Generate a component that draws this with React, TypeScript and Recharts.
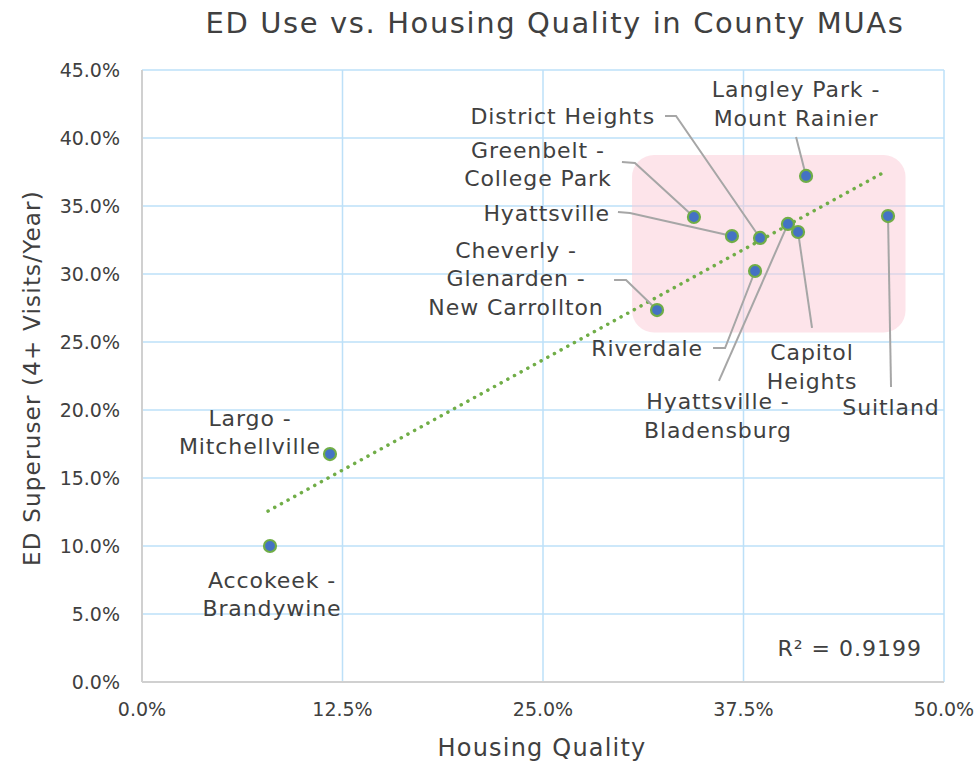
import React from 'react';
import {
  ScatterChart,
  Scatter,
  XAxis,
  YAxis,
  CartesianGrid,
  ReferenceArea,
  Customized,
} from 'recharts';

// County MUAs
const places = [
  'Accokeek - Brandywine',
  'Largo - Mitchellville',
  'Cheverly - Glenarden - New Carrollton',
  'Greenbelt - College Park',
  'Hyattsville',
  'District Heights',
  'Riverdale',
  'Hyattsville - Bladensburg',
  'Capitol Heights',
  'Langley Park - Mount Rainier',
  'Suitland',
];
const housingQuality = [7.98, 11.72, 32.11, 34.41, 36.78, 38.53, 38.22, 40.27, 40.9, 41.4, 46.51];
const edSuperuser = [10.0, 16.76, 27.35, 34.19, 32.79, 32.65, 30.22, 33.68, 33.09, 37.21, 34.26];

// linear trendline endpoints (dotted green)
const trendX = [7.86, 46.4];
const trendY = [12.57, 37.57];

const xTicks = [0, 12.5, 25, 37.5, 50];
const yTicks = [0, 5, 10, 15, 20, 25, 30, 35, 40, 45];

// highlighted cluster box
const cluster = { x1: 30.55, x2: 47.6, y1: 25.7, y2: 38.75 };

const points = places.map((name, i) => ({ name, x: housingQuality[i], y: edSuperuser[i] }));
const trend = trendX.map((x, i) => ({ x, y: trendY[i] }));

const TEXT = '#404040';
const FONT = '"DejaVu Sans", sans-serif';

// label placement, offsets in px from the point; leader = polyline ending at the point
type LabelSpec = {
  lines: string[];
  dx: number;
  dy: number;
  anchor: 'start' | 'middle' | 'end';
  leader?: [number, number][];
};
const labelSpecs: Record<string, LabelSpec> = {
  'Accokeek - Brandywine': { lines: ['Accokeek -', 'Brandywine'], dx: 2, dy: 34, anchor: 'middle' },
  'Largo - Mitchellville': { lines: ['Largo -', 'Mitchellville'], dx: -80, dy: -36, anchor: 'middle' },
  'Cheverly - Glenarden - New Carrollton': {
    lines: ['Cheverly -', 'Glenarden -', 'New Carrollton'],
    dx: -141, dy: -60, anchor: 'middle',
    leader: [[-43, -30], [-31, -30]],
  },
  'Greenbelt - College Park': {
    lines: ['Greenbelt -', 'College Park'], dx: -156, dy: -67, anchor: 'middle',
    leader: [[-72, -55], [-59, -54]],
  },
  Hyattsville: {
    lines: ['Hyattsville'], dx: -122, dy: -23, anchor: 'end',
    leader: [[-114, -24], [-102, -23]],
  },
  'District Heights': {
    lines: ['District Heights'], dx: -105, dy: -121, anchor: 'end',
    leader: [[-95, -122], [-84, -122]],
  },
  Riverdale: {
    lines: ['Riverdale'], dx: -52, dy: 77, anchor: 'end',
    leader: [[-42, 77], [-30, 77]],
  },
  'Hyattsville - Bladensburg': {
    lines: ['Hyattsville -', 'Bladensburg'], dx: -70, dy: 178, anchor: 'middle',
    leader: [[-69, 157]],
  },
  'Capitol Heights': {
    lines: ['Capitol', 'Heights'], dx: 14, dy: 121, anchor: 'middle',
    leader: [[14, 96]],
  },
  'Langley Park - Mount Rainier': {
    lines: ['Langley Park -', 'Mount Rainier'], dx: -10, dy: -86, anchor: 'middle',
    leader: [[-10, -39]],
  },
  Suitland: { lines: ['Suitland'], dx: 3, dy: 191, anchor: 'middle', leader: [[3, 171]] },
};

const pct = (v: number) => `${v.toFixed(1)}%`;

const PointLabel = (props: any) => {
  const { cx, cy, payload } = props;
  const spec = labelSpecs[payload.name];
  if (!spec || cx == null) return null;
  const leader = spec.leader
    ? [...spec.leader.map(([ox, oy]) => `${cx + ox},${cy + oy}`), `${cx},${cy}`].join(' ')
    : null;
  return (
    <g>
      {leader && <polyline points={leader} fill="none" stroke="#a6a6a6" strokeWidth={2} />}
      {spec.lines.map((line, i) => (
        <text
          key={i}
          x={cx + spec.dx}
          y={cy + spec.dy + i * 28.5}
          textAnchor={spec.anchor}
          dominantBaseline="central"
          fontFamily={FONT}
          fontSize={22}
          letterSpacing={0.9}
          fill={TEXT}
        >
          {line}
        </text>
      ))}
    </g>
  );
};

const PointDot = (props: any) => {
  const { cx, cy } = props;
  if (cx == null) return null;
  return <circle cx={cx} cy={cy} r={6} fill="#4472c4" stroke="#70ad47" strokeWidth={2.2} />;
};

const ClusterBox = (props: any) => {
  const { x, y, width, height } = props;
  return <rect x={x} y={y} width={width} height={height} rx={22} ry={22} fill="#fbc9d5" fillOpacity={0.5} />;
};

const Texts = () => (
  <g fontFamily={FONT} fill={TEXT}>
    <text x={555} y={23} textAnchor="middle" dominantBaseline="central" fontSize={29} letterSpacing={1.6}>
      ED Use vs. Housing Quality in County MUAs
    </text>
    <text x={542} y={748} textAnchor="middle" dominantBaseline="central" fontSize={24} letterSpacing={1.2}>
      Housing Quality
    </text>
    <text
      x={32}
      y={378}
      textAnchor="middle"
      dominantBaseline="central"
      fontSize={23}
      letterSpacing={1.2}
      transform="rotate(-90 32 378)"
    >
      ED Superuser (4+ Visits/Year)
    </text>
    <text x={922} y={648} textAnchor="end" dominantBaseline="central" fontSize={22} letterSpacing={1}>
      R² = 0.9199
    </text>
  </g>
);

export default function App() {
  return (
    <div style={{ position: 'absolute', left: 0, top: 0, background: '#fff' }}>
      <ScatterChart width={979} height={769} margin={{ top: 70, right: 35, bottom: 0, left: 0 }}>
        <ReferenceArea
          x1={cluster.x1}
          x2={cluster.x2}
          y1={cluster.y1}
          y2={cluster.y2}
          shape={<ClusterBox />}
          ifOverflow="visible"
        />
        <CartesianGrid stroke="#bde0f8" strokeWidth={1.5} />
        <XAxis
          type="number"
          dataKey="x"
          domain={[0, 50]}
          ticks={xTicks}
          tickFormatter={pct}
          height={87}
          axisLine={{ stroke: '#d0d0d0', strokeWidth: 2 }}
          tickLine={false}
          tickMargin={15}
          tick={{ fill: TEXT, fontSize: 19, fontFamily: FONT }}
          interval={0}
        />
        <YAxis
          type="number"
          dataKey="y"
          domain={[0, 45]}
          ticks={yTicks}
          tickFormatter={pct}
          width={142}
          axisLine={{ stroke: '#d0d0d0', strokeWidth: 2 }}
          tickLine={false}
          tickMargin={16}
          tick={{ fill: TEXT, fontSize: 19, fontFamily: FONT }}
          interval={0}
        />
        <Scatter
          data={trend}
          line={{ stroke: '#70ad47', strokeWidth: 3.5, strokeDasharray: '0.1 7.5', strokeLinecap: 'round' }}
          shape={() => null}
          isAnimationActive={false}
        />
        <Scatter data={points} shape={<PointLabel />} isAnimationActive={false} />
        <Scatter data={points} shape={<PointDot />} isAnimationActive={false} />
        <Customized component={<Texts />} />
      </ScatterChart>
    </div>
  );
}
